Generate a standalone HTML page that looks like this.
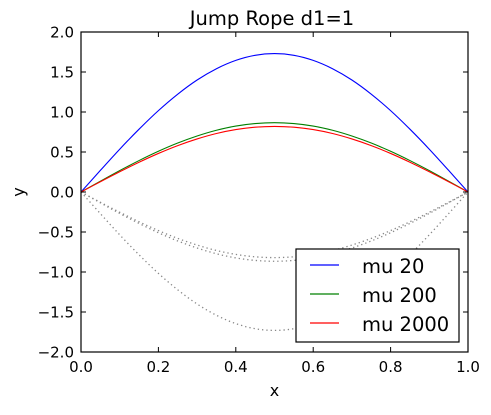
<!DOCTYPE html>
<html><head><meta charset="utf-8"><style>
body{margin:0;background:#fff}
text{font-family:"DejaVu Sans","Liberation Sans",sans-serif;fill:#000}
</style></head><body>
<svg id="chart" width="491" height="410" xmlns="http://www.w3.org/2000/svg">
<rect width="491" height="410" fill="#fff"/>
<g id="plot"></g>
</svg>
<script>
const xValues=[0,0.05,0.1,0.15,0.2,0.25,0.3,0.35,0.4,0.45,0.5,0.55,0.6,0.65,0.7,0.75,0.8,0.85,0.9,0.95,1];
const mu20=[0,0.27,0.535,0.785,1.017,1.223,1.40,1.541,1.645,1.709,1.73,1.709,1.645,1.541,1.40,1.223,1.017,0.785,0.535,0.27,0];
const mu200=[0,0.135,0.268,0.393,0.509,0.612,0.70,0.772,0.824,0.855,0.866,0.855,0.824,0.772,0.70,0.612,0.509,0.393,0.268,0.135,0];
const mu2000=[0,0.128,0.253,0.372,0.482,0.58,0.663,0.731,0.78,0.81,0.82,0.81,0.78,0.731,0.663,0.58,0.482,0.372,0.253,0.128,0];
const xTicks=["0.0","0.2","0.4","0.6","0.8","1.0"];
const yTicks=["-2.0","-1.5","-1.0","-0.5","0.0","0.5","1.0","1.5","2.0"];
const legendLabels=["mu 20","mu 200","mu 2000"];
const L=81,R=468,T=32,B=352;
const sx=v=>L+(v-0)/(1-0)*(R-L);
const sy=v=>T+(2-v)/4*(B-T);
const NS="http://www.w3.org/2000/svg";
const g=document.getElementById('plot');
function mk(tag,attrs){const e=document.createElementNS(NS,tag);for(const k in attrs)e.setAttribute(k,attrs[k]);g.appendChild(e);return e;}
function pathD(arr,s){
 const P=xValues.map((x,i)=>[sx(x),sy(s*arr[i])]);
 let d='M'+P[0][0]+','+P[0][1];
 for(let i=0;i<P.length-1;i++){
  const p0=P[Math.max(0,i-1)],p1=P[i],p2=P[i+1],p3=P[Math.min(P.length-1,i+2)];
  const c1=[p1[0]+(p2[0]-p0[0])/6,p1[1]+(p2[1]-p0[1])/6];
  const c2=[p2[0]-(p3[0]-p1[0])/6,p2[1]-(p3[1]-p1[1])/6];
  d+=' C'+c1+' '+c2+' '+p2;
 }
 return d;
}
[[mu20,'mirror-mu20'],[mu200,'mirror-mu200'],[mu2000,'mirror-mu2000']].forEach(([a,n])=>{
 const p=mk('path',{d:pathD(a,-1),fill:'none',stroke:'#888','stroke-width':1.3,'stroke-dasharray':'1.3 3'});
 
 
});
const series=[[mu20,'#0000ff','line-mu20'],[mu200,'#008000','line-mu200'],[mu2000,'#ff0000','line-mu2000']];
series.forEach(([a,c,n])=>{
 const p=mk('path',{d:pathD(a,1),fill:'none',stroke:c,'stroke-width':1.1});
 
 
});
const fr=mk('rect',{x:L,y:T,width:R-L,height:B-T,fill:'none',stroke:'#000','stroke-width':1.2});


xTicks.forEach(t=>{const x=sx(parseFloat(t));
 mk('line',{x1:x,x2:x,y1:B,y2:B-5,stroke:'#000'});mk('line',{x1:x,x2:x,y1:T,y2:T+5,stroke:'#000'});
 const tx=mk('text',{x:x,y:B+20,'text-anchor':'middle','font-size':15});tx.textContent=t;
 
 
});
yTicks.forEach(t=>{const y=sy(parseFloat(t));
 mk('line',{x1:L,x2:L+5,y1:y,y2:y,stroke:'#000'});mk('line',{x1:R,x2:R-5,y1:y,y2:y,stroke:'#000'});
 const tx=mk('text',{x:L-7,y:y+5.5,'text-anchor':'end','font-size':15});tx.textContent=t.replace('-','\u2212');
 
 
});
const title=mk('text',{x:272,y:25,'text-anchor':'middle','font-size':19.5});title.textContent='Jump Rope d1=1';


const xl=mk('text',{x:(L+R)/2,y:396,'text-anchor':'middle','font-size':16});xl.textContent='x';


const yl=mk('text',{x:24,y:(T+B)/2,'text-anchor':'middle','font-size':16,transform:'rotate(-90 24 '+(T+B)/2+')'});yl.textContent='y';


const lb=mk('rect',{x:296,y:249,width:163,height:93,fill:'#fff',stroke:'#000','stroke-width':1.2});


series.forEach(([a,c,n],i)=>{const y=265+i*29;
 mk('line',{x1:310,x2:339,y1:y,y2:y,stroke:c,'stroke-width':1.2});
 const tx=mk('text',{x:362,y:y+8,'font-size':19.5});tx.textContent=legendLabels[i];
 
 
});
</script>
</body></html>
